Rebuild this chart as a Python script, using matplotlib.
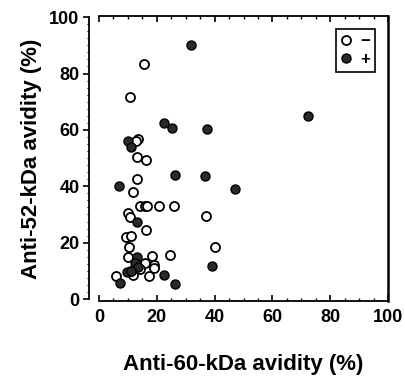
import matplotlib.pyplot as plt
from matplotlib.ticker import MultipleLocator
from matplotlib import font_manager

# anti-60-kDa avidity (x) vs anti-52-kDa avidity (y), %
neg_x = [15.6, 10.7, 13.5, 12.7, 13.0, 16.3, 13.1, 11.7, 14.3, 15.9, 16.6, 20.7,
         26.1, 36.9, 9.9, 10.7, 16.3, 9.5, 11.2, 10.3, 40.1, 10.0, 18.2, 24.4,
         15.8, 19.0, 19.0, 14.3, 11.9, 17.3, 5.8, 11.0]
neg_y = [83.3, 71.7, 56.8, 56.0, 50.5, 49.3, 42.6, 38.1, 32.9, 33.1, 33.1, 33.1,
         33.1, 29.5, 30.4, 29.2, 24.4, 22.1, 22.3, 18.3, 18.5, 15.0, 15.4, 15.7,
         12.7, 12.1, 10.9, 10.5, 8.4, 8.0, 8.2, 10.1]
pos_x = [32.0, 72.3, 22.6, 25.4, 37.3, 9.9, 11.0, 26.3, 36.7, 6.9, 46.9, 13.1,
         13.3, 12.4, 13.5, 9.8, 11.2, 22.5, 39.1, 7.3, 26.4]
pos_y = [90.1, 64.9, 62.5, 60.8, 60.3, 56.1, 53.8, 44.0, 43.6, 40.2, 39.1, 27.2,
         14.8, 12.7, 11.5, 9.7, 10.0, 8.4, 11.8, 5.8, 5.4]

names = {f.name for f in font_manager.fontManager.ttflist}
tick_font = 'Liberation Sans Narrow' if 'Liberation Sans Narrow' in names else 'Liberation Sans'
plt.rcParams['font.family'] = ['Liberation Sans', 'DejaVu Sans']

fig = plt.figure(figsize=(4.05, 3.84), dpi=100)
ax = fig.add_axes([99 / 405, 1 - 301 / 384, 289 / 405, 285 / 384])

ax.plot(neg_x, neg_y, 'o', ms=6.5, mfc='white', mec='black', mew=1.3, label='−')
ax.plot(pos_x, pos_y, 'o', ms=6.5, mfc='#2a2a2a', mec='black', mew=1.0, label='+')

ax.set_xlim(0, 100)
ax.set_ylim(-0.7, 100.4)

ax.spines['left'].set_position(('outward', 7))
ax.spines['left'].set_bounds(0, 100)
for s in ax.spines.values():
    s.set_linewidth(1.3)
ax.spines['right'].set_linewidth(1.8)

ax.xaxis.set_major_locator(MultipleLocator(20))
ax.xaxis.set_minor_locator(MultipleLocator(5))
ax.yaxis.set_major_locator(MultipleLocator(20))
ax.yaxis.set_minor_locator(MultipleLocator(2.5))
ax.tick_params(axis='x', which='both', direction='in', top=True, bottom=True)
ax.tick_params(axis='x', which='major', length=4, width=1.2, pad=6)
ax.tick_params(axis='x', which='minor', length=2.5, width=1)
ax.tick_params(axis='y', which='major', direction='out', length=4, width=1.2, pad=3)
ax.tick_params(axis='y', which='minor', direction='out', length=1.5, width=0.8)
for lab in ax.get_xticklabels() + ax.get_yticklabels():
    lab.set_fontfamily(tick_font)
    lab.set_fontweight('bold')
    lab.set_fontsize(13)

ax.set_xlabel('Anti-60-kDa avidity (%)', fontsize=16, fontweight='bold', labelpad=20)
ax.set_ylabel('Anti-52-kDa avidity (%)', fontsize=16, fontweight='bold', labelpad=5)

leg = ax.legend(loc='upper right', bbox_to_anchor=(0.985, 0.985),
                handlelength=0.6, handletextpad=0.6, borderpad=0.3,
                labelspacing=0.2, fancybox=False, framealpha=1,
                prop={'weight': 'bold', 'size': 12})
leg.get_frame().set_edgecolor('black')
leg.get_frame().set_linewidth(1.2)

fig.savefig('out.png', dpi=100)
